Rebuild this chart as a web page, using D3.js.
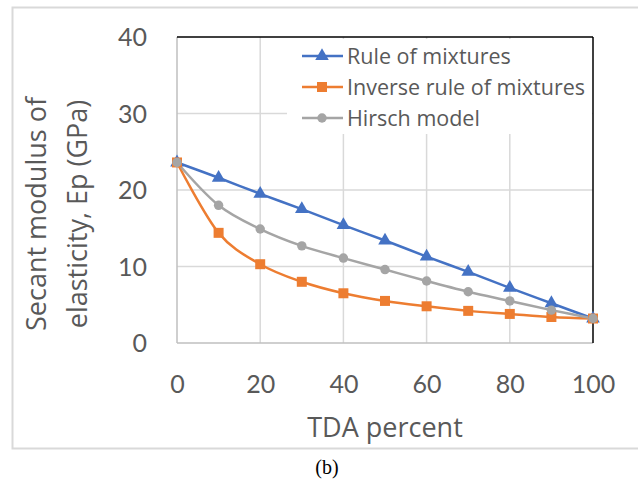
<!DOCTYPE html>
<html>
<head>
<meta charset="utf-8">
<script src="https://cdn.jsdelivr.net/npm/d3@7"></script>
<style>
  body { margin: 0; background: #fff; }
  svg text { font-family: "Open Sans", Lato, sans-serif; fill: #595959; }
</style>
</head>
<body>
<div id="chart"></div>
<script>
// data
const tdaPercent = [0, 10, 20, 30, 40, 50, 60, 70, 80, 90, 100];
const ruleOfMixtures = [23.6, 21.6, 19.5, 17.5, 15.4, 13.4, 11.3, 9.3, 7.2, 5.2, 3.2];
const inverseRule = [23.6, 14.4, 10.3, 8.0, 6.5, 5.5, 4.8, 4.2, 3.8, 3.4, 3.2];
const hirschModel = [23.6, 18.0, 14.9, 12.7, 11.1, 9.6, 8.1, 6.7, 5.5, 4.3, 3.2];
const xTicks = [0, 20, 40, 60, 80, 100];
const yTicks = [0, 10, 20, 30, 40];
const seriesNames = ["Rule of mixtures", "Inverse rule of mixtures", "Hirsch model"];
const seriesColors = ["#4472C4", "#ED7D31", "#A5A5A5"];

const W = 638, H = 481;
const plot = { left: 177, right: 593, top: 37, bottom: 343 };

const svg = d3.select("#chart").append("svg")
    .attr("width", W)
    .attr("height", H);

// outer chart border
svg.append("rect")
    .attr("x", 12.5).attr("y", 7.5)
    .attr("width", 640).attr("height", 441)
    .attr("fill", "none")
    .attr("stroke", "#D9D9D9")
    .attr("stroke-width", 2);

const x = d3.scaleLinear().domain([0, 100]).range([plot.left, plot.right]);
const y = d3.scaleLinear().domain([0, 40]).range([plot.bottom, plot.top]);

// gridlines
svg.append("g").selectAll("line.v")
    .data(xTicks.slice(1, -1))
    .join("line")
    .attr("x1", d => x(d)).attr("x2", d => x(d))
    .attr("y1", plot.top).attr("y2", plot.bottom)
    .attr("stroke", "#D9D9D9").attr("stroke-width", 1.5);

svg.append("g").selectAll("line.h")
    .data(yTicks.slice(1, -1))
    .join("line")
    .attr("x1", plot.left).attr("x2", plot.right)
    .attr("y1", d => y(d)).attr("y2", d => y(d))
    .attr("stroke", "#D9D9D9").attr("stroke-width", 1.5);

// plot frame: left/bottom gray, top/right black
svg.append("line")
    .attr("x1", plot.left).attr("x2", plot.left)
    .attr("y1", plot.top).attr("y2", plot.bottom)
    .attr("stroke", "#BFBFBF").attr("stroke-width", 1.5);
svg.append("line")
    .attr("x1", plot.left).attr("x2", plot.right)
    .attr("y1", plot.bottom).attr("y2", plot.bottom)
    .attr("stroke", "#BFBFBF").attr("stroke-width", 1.5);
svg.append("line")
    .attr("x1", plot.left).attr("x2", plot.right)
    .attr("y1", plot.top).attr("y2", plot.top)
    .attr("stroke", "#000").attr("stroke-width", 1.5);
svg.append("line")
    .attr("x1", plot.right).attr("x2", plot.right)
    .attr("y1", plot.top).attr("y2", plot.bottom)
    .attr("stroke", "#000").attr("stroke-width", 1.5);

// axes (labels only)
const yAxis = svg.append("g")
    .attr("transform", `translate(${plot.left},0)`)
    .call(d3.axisLeft(y).tickValues(yTicks).tickSize(0).tickPadding(30));
yAxis.select(".domain").remove();
yAxis.selectAll("text")
    .style("font-family", "Lato, sans-serif")
    .style("font-size", "25px")
    .attr("dy", "0.35em");

const xAxis = svg.append("g")
    .attr("transform", `translate(0,${plot.bottom})`)
    .call(d3.axisBottom(x).tickValues(xTicks).tickSize(0).tickPadding(32));
xAxis.select(".domain").remove();
xAxis.selectAll("text")
    .style("font-family", "Lato, sans-serif")
    .style("font-size", "25px");

// axis titles
svg.append("text")
    .attr("x", 385).attr("y", 437)
    .attr("text-anchor", "middle")
    .style("font-size", "27px")
    .text("TDA percent");

const yTitle = svg.append("text")
    .attr("transform", "translate(0,214) rotate(-90)")
    .attr("text-anchor", "middle")
    .style("font-size", "27px");
yTitle.append("tspan").attr("x", 0).attr("y", 46).text("Secant modulus of");
yTitle.append("tspan").attr("x", 0).attr("y", 87).text("elasticity, Ep (GPa)");

// series
const series = [ruleOfMixtures, inverseRule, hirschModel].map((vals, i) => ({
    name: seriesNames[i],
    color: seriesColors[i],
    points: tdaPercent.map((t, j) => ({ t: t, v: vals[j] }))
}));

const line = d3.line()
    .x(d => x(d.t))
    .y(d => y(d.v))
    .curve(d3.curveCatmullRom.alpha(0));

const symbols = [d3.symbolTriangle, d3.symbolSquare, d3.symbolCircle];
const symbolSizes = [80, 100, 70];

// white legend box hides the grid behind it
svg.append("rect")
    .attr("x", 287).attr("y", 39)
    .attr("width", 305).attr("height", 95)
    .attr("fill", "#fff");

series.forEach((s) => {
    svg.append("path")
        .datum(s.points)
        .attr("d", line)
        .attr("fill", "none")
        .attr("stroke", s.color)
        .attr("stroke-width", 2.5);
});
series.forEach((s, i) => {
    svg.append("g").selectAll("path")
        .data(s.points)
        .join("path")
        .attr("transform", d => `translate(${x(d.t)},${y(d.v)})`)
        .attr("d", d3.symbol().type(symbols[i]).size(symbolSizes[i]))
        .attr("fill", s.color);
});

// legend
const legend = svg.append("g");
series.forEach((s, i) => {
    const ly = 56 + i * 31;
    legend.append("line")
        .attr("x1", 302).attr("x2", 343)
        .attr("y1", ly).attr("y2", ly)
        .attr("stroke", s.color).attr("stroke-width", 2.5);
    legend.append("path")
        .attr("transform", `translate(322,${ly})`)
        .attr("d", d3.symbol().type(symbols[i]).size(symbolSizes[i]))
        .attr("fill", s.color);
    legend.append("text")
        .attr("x", 347).attr("y", ly)
        .attr("dy", "0.35em")
        .style("font-size", "21.5px")
        .text(s.name);
});

// caption
svg.append("text")
    .attr("x", 327).attr("y", 474)
    .attr("text-anchor", "middle")
    .style("font-family", "'Liberation Serif', 'Times New Roman', serif")
    .style("font-size", "20px")
    .style("fill", "#000")
    .text("(b)");
</script>
</body>
</html>
